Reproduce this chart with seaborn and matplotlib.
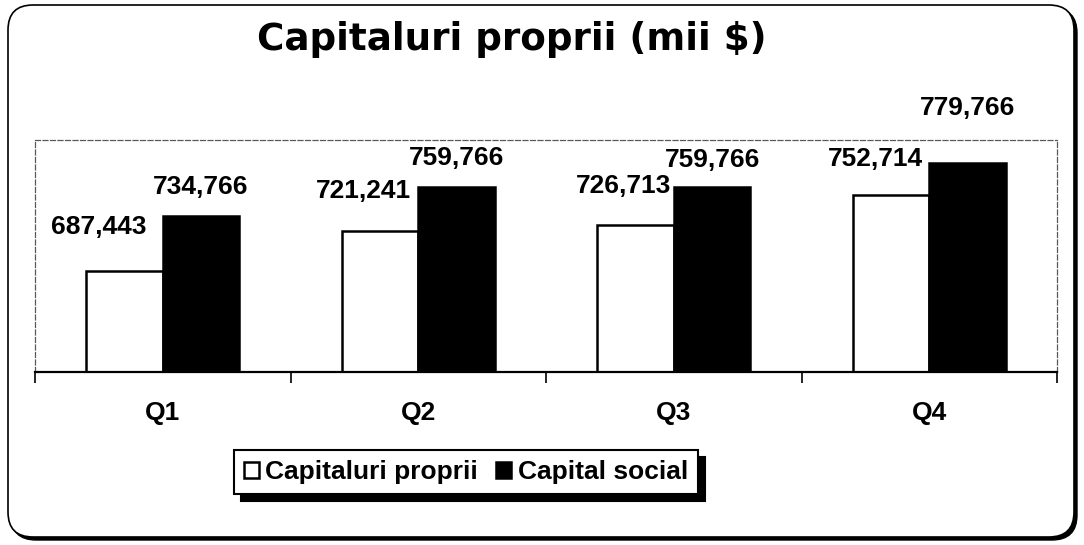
import pandas as pd
import matplotlib.pyplot as plt
import seaborn as sns
from matplotlib.patches import FancyBboxPatch

# data
quarters = ['Q1', 'Q2', 'Q3', 'Q4']
series = ['Capitaluri proprii', 'Capital social']
capitaluri_proprii = [687443, 721241, 726713, 752714]
capital_social = [734766, 759766, 759766, 779766]

# label offsets (pixels) from the top centre of each bar, as placed in the original
offsets_proprii = [(-26, 44), (-16, 40), (-12, 39), (-15, 36)]
offsets_social = [(0, 29), (0, 29), (0, 27), (0, 55)]

df = pd.DataFrame({
    'Trimestru': quarters * 2,
    'Valoare': capitaluri_proprii + capital_social,
    'Serie': [series[0]] * len(quarters) + [series[1]] * len(quarters),
})

sns.set_style('white')
plt.rcParams['font.family'] = ['Liberation Sans', 'DejaVu Sans']
plt.rcParams['text.color'] = 'black'
plt.rcParams['xtick.color'] = 'black'
plt.rcParams['xtick.labelcolor'] = 'black'

fig = plt.figure(figsize=(10.84, 5.45), dpi=100)
fig.patch.set_facecolor('white')

# rounded outer frame with a dark shadow
shadow = FancyBboxPatch((0.11, 0.05), 10.66, 5.32, boxstyle='round,pad=0,rounding_size=0.25',
                        transform=fig.dpi_scale_trans, fc='black', ec='black', lw=1, zorder=-2)
frame = FancyBboxPatch((0.08, 0.08), 10.66, 5.32, boxstyle='round,pad=0,rounding_size=0.25',
                       transform=fig.dpi_scale_trans, fc='white', ec='black', lw=1.2, zorder=-1)
fig.patches.extend([shadow, frame])

ax = fig.add_axes([0.0323, 0.3174, 0.9428, 0.4257])
ax.set_facecolor('none')

sns.barplot(data=df, x='Trimestru', y='Valoare', hue='Serie', hue_order=series,
            palette=['white', 'black'], edgecolor='black', linewidth=1.8,
            width=0.6, saturation=1, ax=ax)

ax.set_xlim(-0.5, len(quarters) - 0.5)
ax.set_ylim(600000, 800000)
ax.set_yticks([])
ax.set_xlabel('')
ax.set_ylabel('')

# value labels
for container, offsets in zip(ax.containers, [offsets_proprii, offsets_social]):
    for bar, (dx, dy) in zip(container, offsets):
        ax.annotate(f'{int(bar.get_height()):,}',
                    xy=(bar.get_x() + bar.get_width() / 2, bar.get_height()),
                    xytext=(dx, dy), textcoords='offset pixels',
                    ha='center', va='center', fontsize=19, fontweight='bold',
                    color='black', annotation_clip=False)

# ticks between categories, labels centred
ax.set_xticks([i - 0.5 for i in range(len(quarters) + 1)], labels=[])
ax.set_xticks(range(len(quarters)), labels=quarters, minor=True)
ax.tick_params(axis='x', which='major', bottom=True, direction='out', length=8,
               width=1.2, color='black')
ax.tick_params(axis='x', which='minor', bottom=True, length=0, pad=21, labelsize=19,
               labelcolor='black')
for t in ax.get_xticklabels(minor=True):
    t.set_fontweight('bold')

for side in ['top', 'left', 'right']:
    ax.spines[side].set_linestyle((0, (4, 2)))
    ax.spines[side].set_color('0.35')
    ax.spines[side].set_linewidth(0.9)
ax.spines['bottom'].set_color('black')
ax.spines['bottom'].set_linewidth(1.6)

sns.move_legend(ax, loc='center', bbox_to_anchor=(466 / 1084, 1 - 472 / 545),
                bbox_transform=fig.transFigure, ncol=2, title=None, frameon=True,
                fancybox=False, edgecolor='black', framealpha=1,
                shadow={'ox': 5, 'oy': -5, 'color': 'black', 'alpha': 1},
                prop={'weight': 'bold', 'size': 19}, labelcolor='black',
                handlelength=0.55, handleheight=0.55, handletextpad=0.25,
                columnspacing=0.7, borderpad=0.38, borderaxespad=0)
ax.get_legend().get_frame().set_linewidth(1.5)

fig.text(512 / 1084, 1 - 40 / 545, 'Capitaluri proprii (mii $)', family='DejaVu Sans',
         fontsize=26.8, fontweight='bold', ha='center', va='center', color='black')

fig.savefig('out.png', dpi=100)
